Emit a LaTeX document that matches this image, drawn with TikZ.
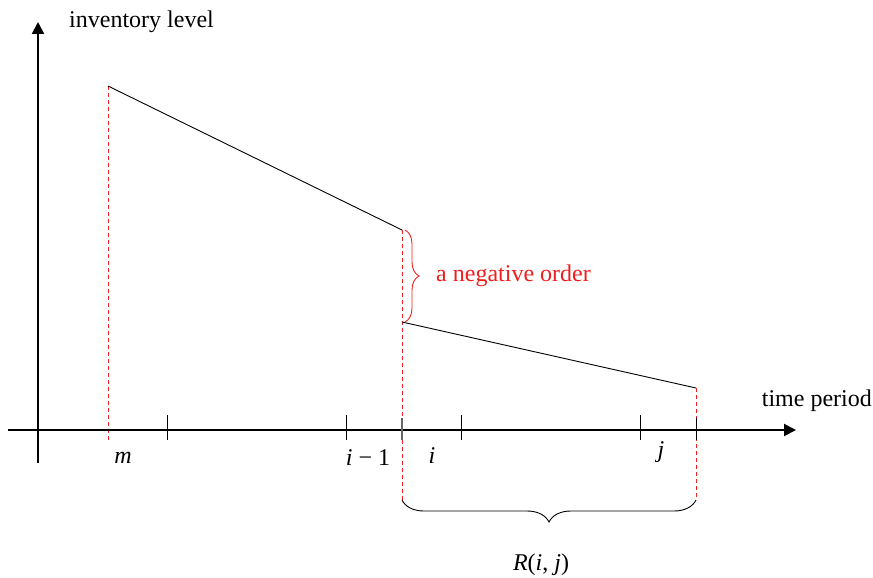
\documentclass[tikz,border=0pt]{standalone}
\usepackage{fontspec}
\setmainfont{Liberation Serif}
\usetikzlibrary{decorations.pathreplacing,arrows.meta}
\definecolor{myred}{RGB}{240,30,30}
\begin{document}
\begin{tikzpicture}[x=1pt,y=-1pt,
  axis/.style={line width=2pt,-{Triangle[length=12pt,width=12pt]}},
  tick/.style={line width=0.9pt},
  dline/.style={line width=0.9pt},
  rdash/.style={myred,line width=0.9pt,dash pattern=on 4pt off 3pt},
  lbl/.style={font=\fontsize{24}{28}\selectfont,inner sep=0pt},
]
\useasboundingbox (0,0) rectangle (873,578);
% coordinates
\coordinate (ya) at (38,463);
\coordinate (yb) at (38,22);
\coordinate (xa) at (8,430);
\coordinate (xb) at (796,430);
\coordinate (p1) at (108,86);
\coordinate (p2) at (402,230);
\coordinate (p3) at (402,322);
\coordinate (p4) at (696,388);
\coordinate (m0) at (108,440);
\coordinate (i0) at (402,500);
\coordinate (j0) at (696,500);
% red dashed verticals
\draw[rdash] (p1) -- (m0);
\draw[rdash] (p2) -- (i0);
\draw[rdash] (p4) -- (j0);
% axes
\draw[axis] (ya) -- (yb);
\draw[axis] (xa) -- (xb);
% ticks
\foreach \t in {167,346,461,640}{
  \draw[tick] (\t,415) -- (\t,440);
}
\draw[line width=1.6pt,gray!80!black] (402,418) -- (402,440);
\draw[line width=0.8pt,black] (696,418) -- (696,440);
% inventory lines
\draw[dline] (p1) -- (p2);
\draw[dline] (p3) -- (p4);
% braces
\draw[myred,line width=0.9pt,decorate,decoration={brace,amplitude=14pt}] (405,230) -- (405,322);
\draw[line width=0.9pt,decorate,decoration={brace,amplitude=22pt,mirror}] (402,500) -- (696,500);
% labels
\node[lbl,anchor=south west] (yl) at (69,33) {inventory level};
\node[lbl,anchor=south east] (xl) at (872,412) {time period};
\node[lbl,anchor=west,text=myred] (neg) at (436,276) {a negative order};
\node[lbl] (lm) at (123,458) {\textit{m}};
\node[lbl] (li1) at (368,458) {\textit{i} − 1};
\node[lbl] (li) at (432,456) {\textit{i}};
\node[lbl] (lj) at (661,452) {\textit{j}};
\node[lbl] (lR) at (541,565) {\textit{R}(\textit{i}, \textit{j})};
\end{tikzpicture}
\end{document}
